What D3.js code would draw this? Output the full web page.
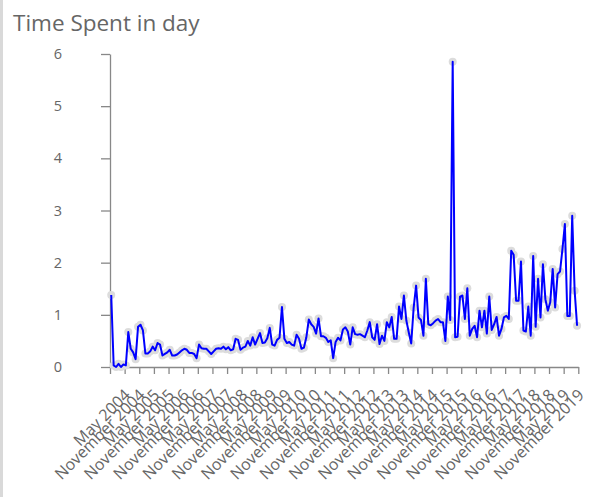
<!DOCTYPE html>
<html>
<head>
<meta charset="utf-8">
<script src="https://cdn.jsdelivr.net/npm/d3@7/dist/d3.min.js"></script>
<style>
  html, body { margin: 0; padding: 0; background: #fff; }
  svg { display: block; }
</style>
</head>
<body>
<svg id="chart" width="605" height="497"></svg>
<script>
// ---- data (monthly, May 2004 .. Apr 2020) ----
const startMonth = "2004-05";
const values = [
  1.38, 0.03, 0.00, 0.06, 0.00, 0.05, 0.03, 0.67, 0.35, 0.28,
  0.15, 0.77, 0.81, 0.70, 0.26, 0.26, 0.30, 0.39, 0.32, 0.46,
  0.43, 0.22, 0.25, 0.28, 0.33, 0.22, 0.22, 0.24, 0.28, 0.32,
  0.35, 0.33, 0.27, 0.27, 0.25, 0.17, 0.43, 0.36, 0.35, 0.35,
  0.30, 0.25, 0.30, 0.35, 0.36, 0.35, 0.39, 0.34, 0.38, 0.32,
  0.34, 0.54, 0.52, 0.33, 0.37, 0.39, 0.50, 0.41, 0.57, 0.43,
  0.54, 0.65, 0.46, 0.47, 0.55, 0.75, 0.43, 0.41, 0.52, 0.56,
  1.15, 0.54, 0.46, 0.48, 0.43, 0.41, 0.62, 0.54, 0.35, 0.37,
  0.57, 0.91, 0.82, 0.77, 0.64, 0.93, 0.59, 0.59, 0.56, 0.48,
  0.51, 0.17, 0.48, 0.56, 0.51, 0.72, 0.76, 0.68, 0.43, 0.76,
  0.63, 0.62, 0.63, 0.60, 0.57, 0.70, 0.86, 0.57, 0.52, 0.82,
  0.44, 0.60, 0.50, 0.86, 0.76, 0.96, 0.54, 0.54, 1.16, 0.92,
  1.37, 0.89, 0.66, 0.45, 1.14, 1.56, 0.95, 0.90, 0.60, 1.69,
  0.82, 0.80, 0.84, 0.89, 0.92, 0.86, 0.86, 0.50, 1.35, 0.90,
  5.85, 0.57, 0.58, 1.35, 1.37, 0.92, 1.51, 0.60, 0.73, 0.79,
  0.57, 1.08, 0.76, 1.08, 0.64, 1.35, 0.71, 0.82, 0.96, 0.60,
  0.73, 0.95, 0.98, 0.92, 2.23, 2.15, 1.27, 1.27, 2.02, 0.70,
  0.68, 1.16, 0.60, 2.13, 0.77, 1.69, 0.95, 1.97, 1.30, 1.08,
  1.24, 1.88, 1.14, 1.78, 1.83, 2.26, 2.74, 0.98, 0.98, 2.90,
  1.46, 0.79
];
const tickLabels = [
  "May 2004","November 2004","May 2005","November 2005","May 2006","November 2006",
  "May 2007","November 2007","May 2008","November 2008","May 2009","November 2009",
  "May 2010","November 2010","May 2011","November 2011","May 2012","November 2012",
  "May 2013","November 2013","May 2014","November 2014","May 2015","November 2015",
  "May 2016","November 2016","May 2017","November 2017","May 2018","November 2018",
  "May 2019","November 2019"
];
const yTicks = [0, 1, 2, 3, 4, 5, 6];
const titleText = "Time Spent in day";
const monthsPerLabel = 6;

(function () {
const parse = d3.timeParse("%Y-%m");
const start = parse(startMonth);
const months = values.map((v, i) => d3.timeMonth.offset(start, i));
const data = values.map((v, i) => ({ month: months[i], value: v }));

const svg = d3.select("#chart");
const pLeft = 110, pRight = 578.3, pTop = 54, pBottom = 367;
const grey = "#666";
const axisGrey = "#888";
const font = "'Open Sans', 'Noto Sans', sans-serif";

svg.append("rect").attr("x", 0).attr("y", 0).attr("width", 3).attr("height", 497).attr("fill", "#d9d9d9");

const x = d3.scaleBand().domain(months.map(d => +d)).range([pLeft, pRight]);
const xb = d3.scaleLinear().domain([0, values.length]).range([pLeft, pRight]);
const y = d3.scaleLinear().domain([0, 6]).range([pBottom, pTop]);
const cx = d => x(+d.month) + x.bandwidth() / 2;

svg.append("text").attr("x", 13).attr("y", 31)
  .attr("font-family", font).attr("font-size", 22.5).attr("fill", grey)
  .text(titleText);

const yAxis = svg.append("g").attr("transform", `translate(${pLeft},0)`)
  .call(d3.axisLeft(y).tickValues(yTicks).tickSize(9).tickPadding(39).tickSizeOuter(0).tickFormat(d3.format("d")));
yAxis.select(".domain").attr("stroke", axisGrey).attr("stroke-width", 1.3);
yAxis.selectAll(".tick line").attr("stroke", axisGrey).attr("stroke-width", 1.3);
yAxis.selectAll(".tick text").attr("font-family", font).attr("font-size", 14.5).attr("fill", grey);

const xTickVals = d3.range(0, values.length + 1, monthsPerLabel);
const xAxis = svg.append("g").attr("transform", `translate(0,${pBottom})`)
  .call(d3.axisBottom(xb).tickValues(xTickVals).tickSize(7).tickSizeOuter(0).tickFormat(""));
xAxis.select(".domain").attr("stroke", axisGrey).attr("stroke-width", 1.3);
xAxis.selectAll(".tick line").attr("stroke", axisGrey).attr("stroke-width", 1.3);

svg.append("g").selectAll("text").data(tickLabels).enter().append("text")
  .attr("transform", (d, k) => {
    const cxk = (xb(k * monthsPerLabel) + xb((k + 1) * monthsPerLabel)) / 2 + 14;
    return `translate(${cxk},396) rotate(-45)`;
  })
  .attr("text-anchor", "end")
  .attr("font-family", font).attr("font-size", 16).attr("fill", grey)
  .text(d => d);

svg.append("g").selectAll("circle").data(data).enter().append("circle")
  .attr("cx", cx).attr("cy", d => y(d.value)).attr("r", 4)
  .attr("fill", "#dcdcdc");

svg.append("path").datum(data)
  .attr("fill", "none").attr("stroke", "#0000ff").attr("stroke-width", 2)
  .attr("stroke-linejoin", "round")
  .attr("d", d3.line().x(cx).y(d => y(d.value)));
})();
</script>
</body>
</html>
